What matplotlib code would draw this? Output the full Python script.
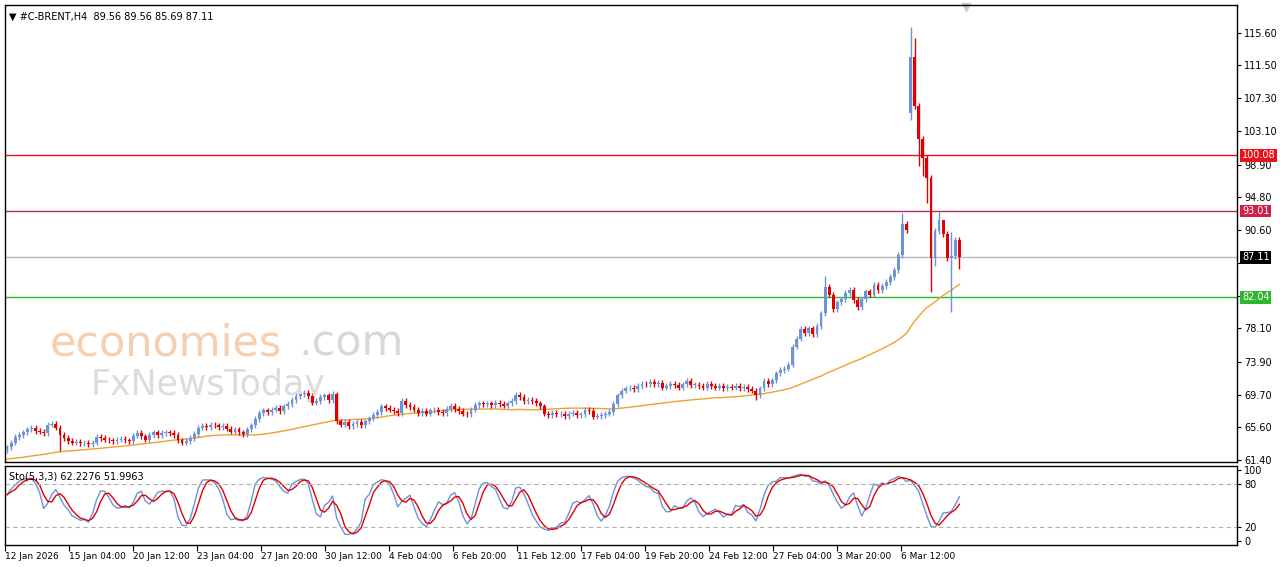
import matplotlib
matplotlib.use("Agg")
import matplotlib.pyplot as plt
import numpy as np
import pandas as pd

plt.rcParams["font.family"] = ["DejaVu Sans"]

# H4 closes
closes = [
    63.0, 63.6, 64.3, 64.6, 64.9, 65.3, 65.5, 65.1, 65.0, 64.8, 65.9, 66.0, 65.5, 64.6, 64.2, 63.8,
    63.6, 63.7, 63.5, 63.6, 63.4, 63.6, 64.3, 64.2, 64.0, 63.9, 63.8, 64.0, 64.1, 63.9, 63.8, 64.5,
    64.8, 64.4, 64.0, 64.6, 64.9, 64.6, 64.8, 64.9, 64.8, 64.6, 63.9, 63.6, 63.8, 64.2, 64.7, 65.5,
    65.7, 65.6, 65.9, 65.8, 65.6, 65.7, 65.4, 65.0, 65.3, 64.9, 64.7, 65.3, 65.8, 66.6, 67.4, 67.7,
    67.5, 67.8, 68.0, 67.6, 68.2, 68.5, 69.0, 69.5, 69.8, 69.9, 69.5, 68.7, 68.9, 69.4, 69.6, 69.0,
    69.8, 66.3, 65.9, 66.2, 65.7, 66.0, 66.2, 65.8, 66.3, 66.7, 67.1, 67.5, 68.2, 68.0, 67.8, 67.6,
    67.4, 68.9, 68.4, 68.1, 67.8, 67.4, 67.6, 67.3, 67.7, 67.8, 67.5, 67.4, 67.9, 68.3, 67.9, 67.6,
    67.3, 67.2, 67.8, 68.4, 68.6, 68.5, 68.6, 68.4, 68.7, 68.5, 68.3, 68.6, 68.9, 69.7, 69.4, 68.9,
    69.0, 68.9, 68.6, 68.2, 67.3, 67.1, 67.4, 67.2, 67.3, 67.0, 67.3, 67.4, 67.1, 67.2, 67.8, 67.6,
    66.9, 67.0, 67.1, 67.3, 67.5, 68.5, 69.6, 70.2, 70.5, 70.6, 70.4, 70.8, 71.1, 71.0, 71.3, 71.0,
    71.2, 70.6, 70.8, 71.1, 70.9, 70.6, 71.0, 71.4, 70.9, 70.9, 70.8, 70.6, 71.1, 70.8, 70.6, 70.8,
    70.5, 70.7, 70.6, 70.8, 70.5, 70.7, 70.4, 70.2, 69.6, 70.5, 71.4, 71.0, 71.5, 72.4, 72.8, 73.0,
    73.5, 75.8, 76.8, 78.0, 77.5, 78.1, 77.4, 78.4, 80.0, 83.4, 82.4, 80.6, 81.4, 81.8, 82.6, 83.0,
    81.7, 80.8, 81.8, 82.8, 82.4, 83.6, 83.0, 83.5, 84.0, 84.6, 85.5, 87.4, 91.4, 90.6, 112.5, 106.3,
    102.2, 99.7, 97.2, 87.0, 90.5, 91.8, 90.1, 87.0, 87.3, 89.3, 87.11,
]
open_overrides = {222: 105.5}
high_overrides = {81: 70.0, 201: 84.8, 220: 92.8, 222: 116.4, 223: 115.0, 229: 92.9, 230: 91.9, 232: 90.4}
low_overrides = {13: 62.5, 184: 69.0, 222: 104.5, 224: 98.7, 225: 97.4, 226: 94.0, 227: 82.7,
                 228: 86.0, 232: 80.2, 234: 85.7}
wick = 0.35
prior_level = 61.5

xtick_labels = ["12 Jan 2026", "15 Jan 04:00", "20 Jan 12:00", "23 Jan 04:00", "27 Jan 20:00",
                "30 Jan 12:00", "4 Feb 04:00", "6 Feb 20:00", "11 Feb 12:00", "17 Feb 04:00",
                "19 Feb 20:00", "24 Feb 12:00", "27 Feb 04:00", "3 Mar 20:00", "6 Mar 12:00"]
price_ticks = [115.60, 111.50, 107.30, 103.10, 98.90, 94.80, 90.60, 86.40, 82.20, 78.10, 73.90,
               69.70, 65.60, 61.40]
hidden_ticks = [86.40, 82.20]
levels = [(100.08, "#e8141c"), (93.01, "#b0305a"), (87.11, "#b8b8b8"), (82.04, "#2cb82c")]
level_bg = ["#e8141c", "#d21f4a", "#000000", "#2cb82c"]

n = len(closes)
c = np.array(closes)
o = np.r_[c[0] - 0.3, c[:-1]]
for k, v in open_overrides.items():
    o[k] = v
h = np.maximum(o, c) + wick
l = np.minimum(o, c) - wick
for k, v in high_overrides.items():
    h[k] = v
for k, v in low_overrides.items():
    l[k] = v
idx = np.arange(n)

ma = pd.Series(np.r_[np.full(49, prior_level), c]).rolling(50).mean().to_numpy()[49:]

hs, ls, cs = pd.Series(h), pd.Series(l), pd.Series(c)
hh = hs.rolling(5, min_periods=1).max()
ll = ls.rolling(5, min_periods=1).min()
k_line = ((cs - ll).rolling(3, min_periods=1).sum() / (hh - ll).rolling(3, min_periods=1).sum() * 100)
d_line = k_line.rolling(3, min_periods=1).mean()

W, H = 1280, 567
fig = plt.figure(figsize=(12.8, 5.67), dpi=100)
fig.patch.set_facecolor("white")
ax = fig.add_axes([5 / W, 1 - 462 / H, 1232 / W, 457 / H])
sx = fig.add_axes([5 / W, 1 - 545 / H, 1232 / W, 79 / H], sharex=ax)

UP = "#6d92d6"; DN = "#e00000"
for i in idx:
    col = UP if c[i] >= o[i] else DN
    ax.vlines(i, l[i], h[i], color=col, lw=1, zorder=3)
    b0, b1 = min(o[i], c[i]), max(o[i], c[i])
    ax.bar(i, max(b1 - b0, 0.1), bottom=b0, width=0.7, color=col, lw=0, zorder=4)
ax.plot(idx, ma, color="#f0a030", lw=1, zorder=2)

for (v, col), bg in zip(levels, level_bg):
    ax.axhline(v, color=col, lw=1, zorder=1)

ax.set_ylim(61.15, 119.15)
ax.set_xlim(-0.5, 302.2)
ax.yaxis.tick_right()
ax.set_yticks(price_ticks)
ax.set_yticklabels(["" if t in hidden_ticks else f"{t:.2f}" for t in price_ticks], fontsize=7)
ax.tick_params(axis="y", length=3, pad=2, colors="black")
ax.tick_params(axis="x", bottom=False, labelbottom=False)
for (v, col), bg in zip(levels, level_bg):
    ax.text(1.004, v, f"{v:.2f}", transform=ax.get_yaxis_transform(), fontsize=7, color="white",
            va="center", ha="left", bbox=dict(boxstyle="square,pad=0.15", fc=bg, ec="none"),
            clip_on=False, zorder=10)

ax.text(0.003, 0.985, "▼ #C-BRENT,H4  89.56 89.56 85.69 87.11", transform=ax.transAxes,
        fontsize=7, va="top", ha="left")
ax.plot([235.5], [118.9], marker="v", color="#c8c8c8", ms=6, clip_on=False)
ax.text(10.5, 76.2, "economies", fontsize=31, color="#f6cfb0", va="center")
ax.text(71.5, 76.2, ".com", fontsize=31, color="#d8d8d8", va="center")
ax.text(20.5, 70.9, "FxNewsToday", fontsize=25, color="#dcdcdc", va="center")

sx.plot(idx, k_line, color="#6d92d6", lw=1)
sx.plot(idx, d_line, color="#e00000", lw=1)
for lv in (80, 20):
    sx.axhline(lv, color="#b0b0b0", lw=0.8, ls=(0, (4, 3)))
sx.set_ylim(-5, 105)
sx.yaxis.tick_right()
sx.set_yticks([100, 80, 20, 0])
sx.set_yticklabels(["100", "80", "20", "0"], fontsize=7)
sx.tick_params(axis="y", length=3, pad=2)
sx.text(0.003, 0.93, "Sto(5,3,3) 62.2276 51.9963", transform=sx.transAxes, fontsize=7, va="top")
sx.set_xticks(np.arange(len(xtick_labels)) * 15.73 - 0.5)
sx.set_xticklabels(xtick_labels, fontsize=6.5, ha="left")
sx.tick_params(axis="x", length=4, pad=1)

for a in (ax, sx):
    for s in a.spines.values():
        s.set_linewidth(1)
        s.set_color("black")

fig.savefig("out.png", dpi=100, facecolor="white")
